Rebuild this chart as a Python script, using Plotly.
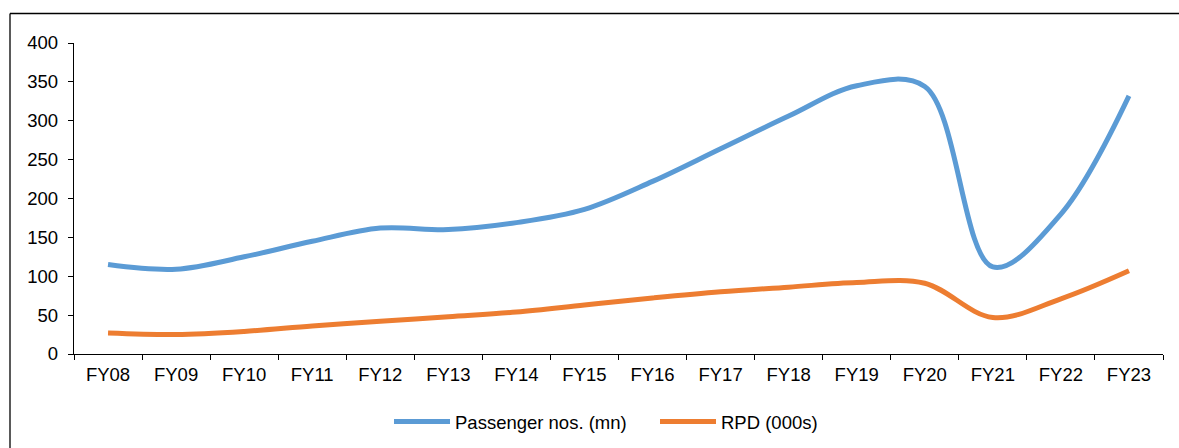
import plotly.graph_objects as go

years = ["FY08", "FY09", "FY10", "FY11", "FY12", "FY13", "FY14", "FY15",
         "FY16", "FY17", "FY18", "FY19", "FY20", "FY21", "FY22", "FY23"]
passengers_mn = [115, 109, 125, 145, 162, 160, 169, 186,
                 222, 264, 306, 345, 344, 112, 180, 332]
rpd_000s = [27, 25, 29, 36, 42, 48, 54, 63,
            72, 80, 86, 92, 91, 47, 71, 107]

W, H = 1179, 448
ML, MR, MT, MB = 74, 16, 43, 94
PW, PH = W - ML - MR, H - MT - MB


def px_x(x):
    return (x - ML) / PW


def px_y(y):
    return (MT + PH - y) / PH


fig = go.Figure()
fig.add_trace(go.Scatter(
    x=years, y=passengers_mn, name="Passenger nos. (mn)", mode="lines",
    line=dict(color="#5B9BD5", width=5, shape="spline", smoothing=1.0),
))
fig.add_trace(go.Scatter(
    x=years, y=rpd_000s, name="RPD (000s)", mode="lines",
    line=dict(color="#ED7D31", width=5, shape="spline", smoothing=1.0),
))

# outer frame: top and left edges
frame = dict(color="black", width=1.3)
fig.add_shape(type="line", xref="paper", yref="paper",
              x0=px_x(10), x1=px_x(W + 5), y0=px_y(13.5), y1=px_y(13.5), line=frame)
fig.add_shape(type="line", xref="paper", yref="paper",
              x0=px_x(10), x1=px_x(10), y0=px_y(13.5), y1=px_y(H + 5), line=frame)

fig.update_layout(
    template="none",
    width=W, height=H,
    margin=dict(l=ML, r=MR, t=MT, b=MB, pad=0, autoexpand=False),
    paper_bgcolor="white", plot_bgcolor="white",
    font=dict(family="Arial, Liberation Sans, sans-serif", size=18.5, color="#000000"),
    showlegend=True,
    legend=dict(
        orientation="h", xref="paper", x=px_x(389), xanchor="left",
        yref="container", y=(H - 422) / H, yanchor="middle",
        font=dict(size=18.5), itemwidth=56, entrywidth=195,
        bgcolor="rgba(0,0,0,0)", borderwidth=0,
    ),
    hovermode=False,
)
fig.update_xaxes(
    type="category", tickson="boundaries", ticks="outside", ticklen=5,
    tickwidth=1.3, tickcolor="black", showline=True, linecolor="black",
    linewidth=1.3, showgrid=False, zeroline=False, ticklabelstandoff=4,
    automargin=False, range=[-0.5, len(years) - 0.5],
)
fig.update_yaxes(
    range=[0, 400], dtick=50, ticks="outside", ticklen=5, tickwidth=1.3,
    tickcolor="black", showline=True, linecolor="black", linewidth=1.3,
    showgrid=False, zeroline=False, ticklabelstandoff=6, automargin=False,
)

fig.write_html("out.html")
